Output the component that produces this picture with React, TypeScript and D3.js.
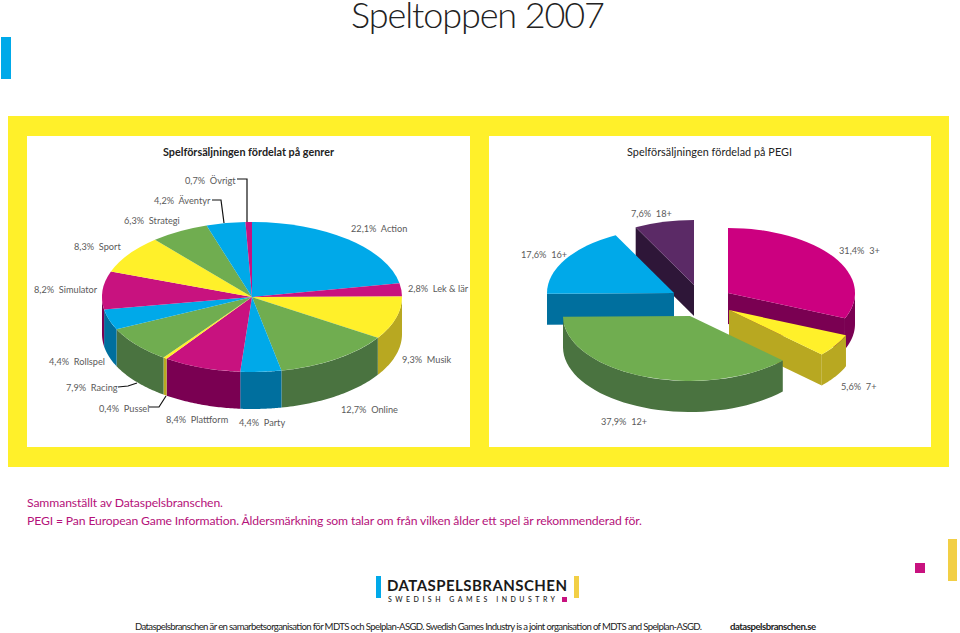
import React from "react";
import * as d3 from "d3";

// genres, clockwise from 12 o'clock
const genreNames = ["Action", "Lek & lär", "Musik", "Online", "Party", "Plattform", "Pussel", "Racing", "Rollspel", "Simulator", "Sport", "Strategi", "Äventyr", "Övrigt"];
const genreShares = [22.1, 2.8, 9.3, 12.7, 4.4, 8.4, 0.4, 7.9, 4.4, 8.2, 8.3, 6.3, 4.2, 0.7];
const genreHues = ["blue", "magenta", "yellow", "green", "blue", "magenta", "yellow", "green", "blue", "magenta", "yellow", "green", "blue", "magenta"];

const pegiNames = ["3+", "7+", "12+", "16+", "18+"];
const pegiShares = [31.4, 5.6, 37.9, 17.6, 7.6];
const pegiHues = ["magenta2", "yellow", "green", "blue", "purple"];

const topColor = d3.scaleOrdinal<string, string>()
  .domain(["blue", "magenta", "magenta2", "yellow", "green", "purple"])
  .range(["#00a9e9", "#c8127f", "#cc0080", "#fff02a", "#70ad50", "#5b2a66"]);
const sideColor = d3.scaleOrdinal<string, string>()
  .domain(["blue", "magenta", "magenta2", "yellow", "green", "purple"])
  .range(["#006f9e", "#7a0052", "#7a0052", "#b8a821", "#4a7340", "#2e1638"]);

// label anchor points (left x, baseline y)
const genreLabelPos = [[351, 232], [408, 292], [402, 363], [341, 413], [239, 426], [166, 423], [99, 412], [66, 391], [49, 365], [34, 293], [74, 250], [124, 224], [154, 204], [185, 184]];
const pegiLabelPos = [[839, 254], [841, 390], [601, 425], [521, 258], [631, 217]];
// apex of each exploded slice
const pegiApex = [[728, 293], [729, 310], [690, 316], [674, 293], [694, 285]];
const pegiDrawOrder = [4, 3, 0, 1, 2];

const leaders = [
  [[237, 179], [247, 179], [247, 222]],
  [[212, 200], [221, 200], [224, 223]],
  [[118, 387], [128, 386], [137, 383]],
  [[149, 407], [159, 407], [166, 396]],
];

const FONT = "Lato, sans-serif";
const pct = (v: number) => v.toFixed(1).replace(".", ",") + "%";
const pie = d3.pie<number>().sort(null).value(d => d);
const line = d3.line();

const rim = (cx: number, cy: number, rx: number, ry: number, a: number): [number, number] =>
  [cx + rx * Math.sin(a), cy - ry * Math.cos(a)];

// outer curved wall, only the part that faces the viewer
const outerWall = (cx: number, cy: number, rx: number, ry: number, depth: number, a0: number, a1: number) => {
  const s = Math.max(a0, Math.PI / 2), e = Math.min(a1, 1.5 * Math.PI);
  if (e <= s) return null;
  const steps = d3.range(0, 41).map(i => s + (e - s) * i / 40);
  const top = steps.map(a => rim(cx, cy, rx, ry, a));
  const bottom = top.map(([x, y]) => [x, y + depth] as [number, number]).reverse();
  return line([...top, ...bottom]) + "Z";
};

// flat wall under a cut edge of an exploded slice
const cutWall = (cx: number, cy: number, rx: number, ry: number, depth: number, a: number) => {
  const [x, y] = rim(cx, cy, rx, ry, a);
  return line([[cx, cy], [x, y], [x, y + depth], [cx, cy + depth]]) + "Z";
};

const TopSlice = ({ cx, cy, rx, ry, a0, a1, fill }: any) => (
  <path
    transform={`translate(${cx},${cy}) scale(1,${ry / rx})`}
    d={d3.arc()({ innerRadius: 0, outerRadius: rx, startAngle: a0, endAngle: a1 }) as string}
    fill={fill}
  />
);

const Label = ({ x, y, share, name }: any) => (
  <text x={x} y={y} fontSize={9.2} fill="#5a5a5a" style={{ whiteSpace: "pre" }}>
    {`${pct(share)}  ${name}`}
  </text>
);

const App = () => {
  const L = { cx: 252, cy: 297, rx: 150, ry: 75, depth: 37 };
  const R = { rx: 127, ry: 65, depth: 31 };
  const genreArcs = pie(genreShares);
  const pegiArcs = pie(pegiShares);
  // which cut edges are visible for each pegi slice: 0 = start, 1 = end
  const pegiCuts: number[][] = [[1], [1], [], [0], [0]];

  return (
    <svg width={960} height={633} style={{ position: "absolute", left: 0, top: 0, fontFamily: FONT }}>
      <rect width={960} height={633} fill="#fff" />
      <text x={351} y={28} fontSize={36} fontWeight={300} fill="#222" textLength={254}>Speltoppen 2007</text>
      <rect x={1} y={37} width={10} height={42} fill="#00a9e9" />

      <rect x={8} y={116} width={941} height={351} fill="#fff02a" />
      <rect x={27} y={136} width={443} height={311} fill="#fff" />
      <rect x={489} y={136} width={442} height={311} fill="#fff" />
      <text x={163} y={156} fontSize={10.8} fontWeight={700} fill="#222" textLength={171}>Spelförsäljningen fördelat på genrer</text>
      <text x={627} y={156} fontSize={10.8} fontWeight={400} fill="#222" textLength={165}>Spelförsäljningen fördelad på PEGI</text>

      {genreArcs.map((d, i) => {
        const wall = outerWall(L.cx, L.cy, L.rx, L.ry, L.depth, d.startAngle, d.endAngle);
        return wall && <path key={i} d={wall} fill={sideColor(genreHues[i])} />;
      })}
      {genreArcs.map((d, i) => (
        <TopSlice key={i} {...L} a0={d.startAngle} a1={d.endAngle} fill={topColor(genreHues[i])} />
      ))}
      {leaders.map((pts, i) => (
        <path key={i} d={line(pts as [number, number][]) as string} fill="none" stroke="#111" strokeWidth={1.2} />
      ))}
      {genreNames.map((n, i) => (
        <Label key={n} x={genreLabelPos[i][0]} y={genreLabelPos[i][1]} share={genreShares[i]} name={n} />
      ))}

      {pegiDrawOrder.map(i => {
        const d = pegiArcs[i];
        const [cx, cy] = pegiApex[i];
        const side = sideColor(pegiHues[i]);
        const wall = outerWall(cx, cy, R.rx, R.ry, R.depth, d.startAngle, d.endAngle);
        return (
          <g key={i}>
            {pegiCuts[i].map(c => (
              <path key={c} d={cutWall(cx, cy, R.rx, R.ry, R.depth, c ? d.endAngle : d.startAngle)} fill={side} />
            ))}
            {wall && <path d={wall} fill={side} />}
            <TopSlice cx={cx} cy={cy} rx={R.rx} ry={R.ry} a0={d.startAngle} a1={d.endAngle} fill={topColor(pegiHues[i])} />
          </g>
        );
      })}
      {pegiNames.map((n, i) => (
        <Label key={n} x={pegiLabelPos[i][0]} y={pegiLabelPos[i][1]} share={pegiShares[i]} name={n} />
      ))}

      <text x={27} y={507} fontSize={12.2} fill="#b5127a" textLength={196}>Sammanställt av Dataspelsbranschen.</text>
      <text x={27} y={524.5} fontSize={12.2} fill="#b5127a" textLength={615}>PEGI = Pan European Game Information. Åldersmärkning som talar om från vilken ålder ett spel är rekommenderad för.</text>

      <rect x={376} y={576} width={5} height={22} fill="#00a9e9" />
      <rect x={574} y={576} width={5} height={22} fill="#f2cf45" />
      <text x={387} y={590.5} fontSize={15} fontWeight={700} fill="#1a1a1a" textLength={180}>DATASPELSBRANSCHEN</text>
      <text x={388} y={602} fontSize={7} fontWeight={500} fill="#1a1a1a" textLength={167}>SWEDISH GAMES INDUSTRY</text>
      <rect x={562} y={597} width={5} height={5} fill="#c8127f" />

      <rect x={915} y={563} width={10} height={10} fill="#c8127f" />
      <rect x={948} y={539} width={9} height={42} fill="#f2cf45" />

      <text x={135} y={630} fontSize={9.6} fill="#222" textLength={567}>Dataspelsbranschen är en samarbetsorganisation för MDTS och Spelplan-ASGD. Swedish Games Industry is a joint organisation of MDTS and Spelplan-ASGD.</text>
      <text x={730} y={630} fontSize={9.6} fontWeight={700} fill="#222" textLength={86}>dataspelsbranschen.se</text>
    </svg>
  );
};

export default App;
